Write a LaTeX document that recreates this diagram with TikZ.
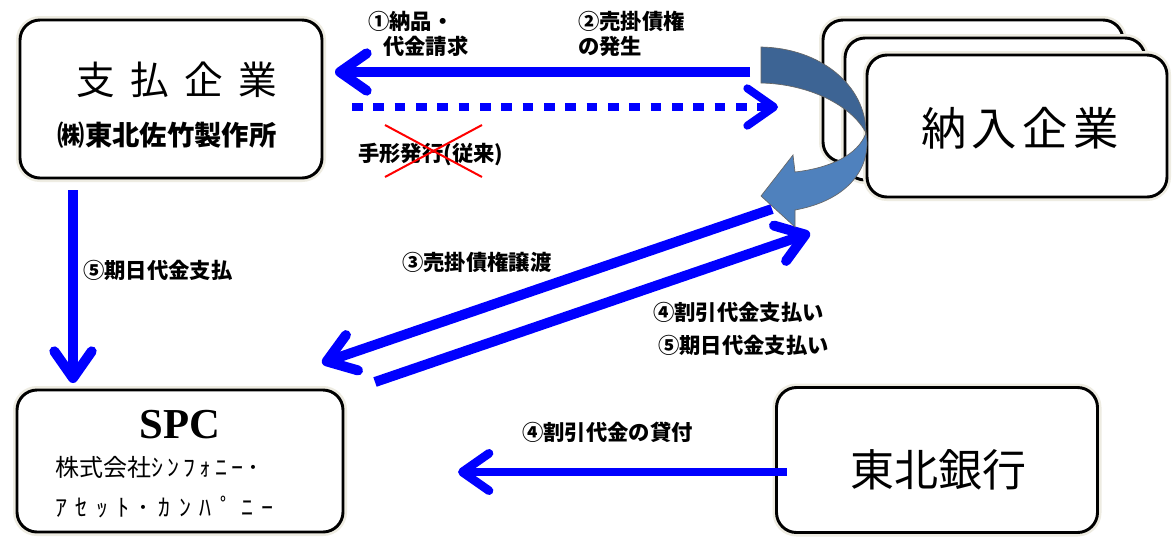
\documentclass[tikz,border=0pt]{standalone}
\usepackage{fontspec}
\setmainfont{Noto Sans CJK JP}
\newfontfamily\jp{Noto Sans CJK JP}
\newfontfamily\jpwide[LetterSpace=40]{Noto Sans CJK JP}
\newfontfamily\jpmid[LetterSpace=12]{Noto Sans CJK JP}
\newfontfamily\kana[LetterSpace=17]{Noto Sans CJK JP}
\newfontfamily\kanawide[LetterSpace=36]{Noto Sans CJK JP}
\newfontfamily\spcfont{Liberation Serif}
\usetikzlibrary{arrows.meta}

\definecolor{flowblue}{RGB}{0,0,255}
\definecolor{curvedark}{RGB}{61,100,148}
\definecolor{curvelight}{RGB}{79,129,189}
\definecolor{boxshade}{RGB}{238,236,226}
\definecolor{crossred}{RGB}{255,0,0}

\begin{document}
\begin{tikzpicture}[x=0.75pt, y=-0.75pt,
    sz/.style 2 args={minimum width=#1*0.75pt, minimum height=#2*0.75pt},
    box/.style={draw, line width=2.2pt, rounded corners=15pt, fill=white,
                preaction={draw=boxshade, line width=6pt}},
    lbl/.style={font=\bfseries\fontsize{16}{19}\selectfont, inner sep=0pt},
    flow/.style={flowblue, line width=7.5pt, -{Straight Barb[length=20pt,width=28pt,round]}},
    flowdot/.style={flow, line width=6pt, dash pattern=on 8pt off 8pt}]
        % Page
        \fill[white] (0,0) rectangle (1175,537);
        \useasboundingbox (0,0) rectangle (1175,537);

        % Boxes
        \node[box, sz={302}{158}] (pay) at (171,99) {};
        \node[box, sz={300}{142}] (sup3) at (973,91) {};
        \node[box, sz={300}{142}] (sup2) at (995,109) {};
        \node[box, sz={300}{142}] (sup) at (1017,126) {};
        \node[box, sz={326}{142}] (spc) at (180,461) {};
        \node[box, sz={321}{145}] (bank) at (937,460) {};

        % Box texts
        \node[font=\jpwide\fontsize{29}{31}\selectfont] (payname) at (177,80) {支払企業};
        \node[font=\bfseries\fontsize{20.5}{22}\selectfont] (paysub) at (167,135) {㈱東北佐竹製作所};
        \node[font=\jpmid\fontsize{34}{36}\selectfont] (supname) at (1020,128) {納入企業};
        \node[font=\spcfont\bfseries\fontsize{32}{34}\selectfont] (spcname) at (180,425) {SPC};
        \node[anchor=west, inner sep=0pt, font=\fontsize{18}{20}\selectfont] (spcsub1) at (55,467) {株式会社{\kana ｼﾝﾌｫﾆｰ･}};
        \node[anchor=west, inner sep=0pt, font=\kanawide\fontsize{18}{20}\selectfont] (spcsub2) at (55,507) {ｱｾｯﾄ･ｶﾝﾊﾟﾆｰ};
        \node[font=\jp\fontsize{33}{35}\selectfont] (bankname) at (938,470) {東北銀行};

        % Arrow ends
        \coordinate (billS) at (750,72);
        \coordinate (billE) at (335,72);
        \coordinate (noteS) at (352,107);
        \coordinate (noteE) at (778,107);
        \coordinate (dueS) at (73,190);
        \coordinate (dueE) at (73,383);
        \coordinate (sellS) at (772,209);
        \coordinate (sellE) at (322,363);
        \coordinate (paidS) at (375,382);
        \coordinate (paidE) at (810,233);
        \coordinate (loanS) at (787,472);
        \coordinate (loanE) at (458,472);

        % Flows
        \draw[flow] (billS) -- (billE);
        \draw[flowdot] (noteS) -- (noteE);
        \draw[flow] (dueS) -- (dueE);
        \draw[flow] (sellS) -- (sellE);
        \draw[flow] (paidS) -- (paidE);
        \draw[flow, line width=6.5pt] (loanS) -- (loanE);

        % Curved arrow round the suppliers
        \filldraw[fill=curvedark, draw=black!60, line width=0.5pt]
            (761,47) .. controls (820,48) and (866,85) .. (866,133)
            .. controls (852,106) and (810,84) .. (761,83) -- cycle;
        \filldraw[fill=curvelight, draw=black!60, line width=0.5pt]
            (866,133) .. controls (872,166) and (850,200) .. (795,210)
            -- (795,227) -- (761,196) -- (793,155) -- (795,172)
            .. controls (830,168) and (858,155) .. (866,133) -- cycle;

        % Labels
        \node[lbl, anchor=north west, align=left] (billlbl) at (368,11) {①納品・\\\hspace*{0.7em}代金請求};
        \node[lbl, anchor=north west, align=left] (claimlbl) at (578,11) {②売掛債権\\の発生};
        \node[lbl, anchor=west] (notelbl) at (358,155) {手形発行(従来)};
        \node[lbl, anchor=west] (duelbl) at (83,270) {⑤期日代金支払};
        \node[lbl, anchor=west] (selllbl) at (402,262) {③売掛債権譲渡};
        \node[lbl, anchor=west] (paidlbl1) at (653,312) {④割引代金支払い};
        \node[lbl, anchor=west] (paidlbl2) at (658,345) {⑤期日代金支払い};
        \node[lbl, anchor=west] (loanlbl) at (522,432) {④割引代金の貸付};

        % Cross over the old bill
        \draw[crossred, line width=1.5pt] (385,125) -- (482,177) (385,177) -- (482,125);
\end{tikzpicture}
\end{document}
